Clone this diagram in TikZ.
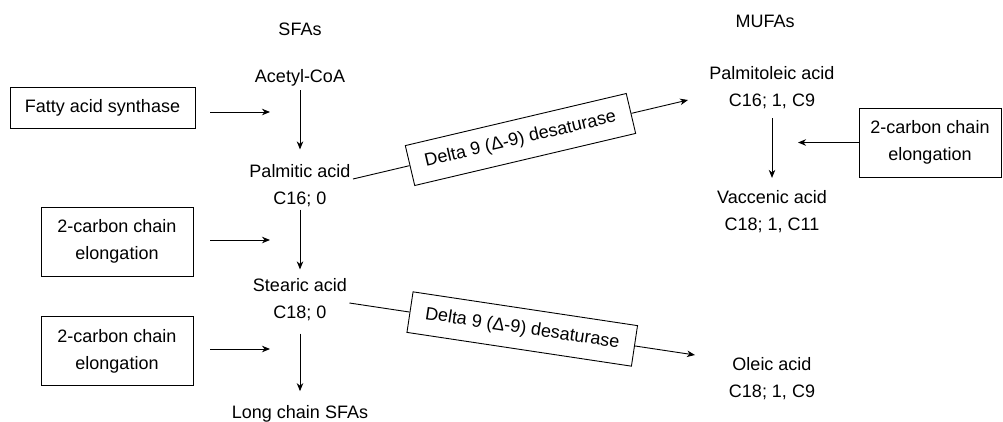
\documentclass[tikz,border=0pt]{standalone}
\usepackage{fontspec}
\setmainfont{Liberation Sans}
\usetikzlibrary{arrows.meta}

\begin{document}
\begin{tikzpicture}[x=1pt,y=-1pt,line width=0.9pt,
        font=\fontsize{18}{27}\selectfont,
        arr/.style={-{Stealth[length=8pt,width=6.5pt,inset=2.5pt]}},
        acid/.style={align=center,inner sep=2pt},
        desat/.style={draw,fill=white,minimum width=227pt,minimum height=41pt,inner sep=0pt},
        elong/.style={draw,align=center,minimum width=152pt,minimum height=69pt,inner sep=0pt}]
      \useasboundingbox (0,0) rectangle (1003,421);

            \node at (300,29.5) (sfa) {SFAs};
            \node at (765,21.5) (mufa) {MUFAs};

             \node[acid] at (300,77.5) (acetyl) {Acetyl-CoA};
             \node[acid] at (300,186) (palm) {Palmitic acid\\C16; 0};
             \node[acid] at (300,300) (stear) {Stearic acid\\C18; 0};
             \node[acid] at (300,414) (lcsfa) {Long chain SFAs};
             \node[acid] at (772,87.5) (palmo) {Palmitoleic acid\\C16; 1, C9};
             \node[acid] at (772,211.5) (vacc) {Vaccenic acid\\C18; 1, C11};
             \node[acid] at (772,379) (oleic) {Oleic acid\\C18; 1, C9};

              \node[draw,minimum width=185pt,minimum height=41pt,inner sep=0pt] at (102.5,108) (fas) {Fatty acid synthase};
              \node[elong] at (117,241.5) (elong1) {2-carbon chain\\elongation};
              \node[elong] at (117,351) (elong2) {2-carbon chain\\elongation};
              \node[elong,minimum width=142pt] at (930,142.5) (elong3) {2-carbon chain\\elongation};

               \coordinate (e1) at (270,112);
               \coordinate (e2) at (270,240);
               \coordinate (e3) at (270,349);
               \coordinate (e4) at (798,142.5);
               \coordinate (pend) at (688,100);
               \coordinate (oend) at (695,355);

                \draw[arr,shorten <=2pt,shorten >=13pt] (acetyl) -- (palm);
                \draw[arr,shorten >=7pt] (palm) -- (stear);
                \draw[arr,shorten <=10pt,shorten >=12pt] (stear) -- (lcsfa);
                \draw[arr,shorten <=7pt,shorten >=10pt] (palmo) -- (vacc);

                \draw[arr] ([xshift=15pt]fas.east |- e1) -- (e1);
                \draw[arr] ([xshift=17pt]elong1.east |- e2) -- (e2);
                \draw[arr] ([xshift=17pt]elong2.east |- e3) -- (e3);
                \draw[arr] (elong3.west) -- (e4);

                \path ([yshift=7pt]palm.east) -- (pend) node[midway,sloped,desat] (d1) {Delta 9 (Δ-9) desaturase};
                \draw ([yshift=7pt]palm.east) -- (d1);
                \draw[arr] (d1) -- (pend);
                \path ([yshift=-3pt]stear.east) -- (oend) node[midway,sloped,desat] (d2) {Delta 9 (Δ-9) desaturase};
                \draw ([yshift=-3pt]stear.east) -- (d2);
                \draw[arr] (d2) -- (oend);
          \end{tikzpicture}
\end{document}
